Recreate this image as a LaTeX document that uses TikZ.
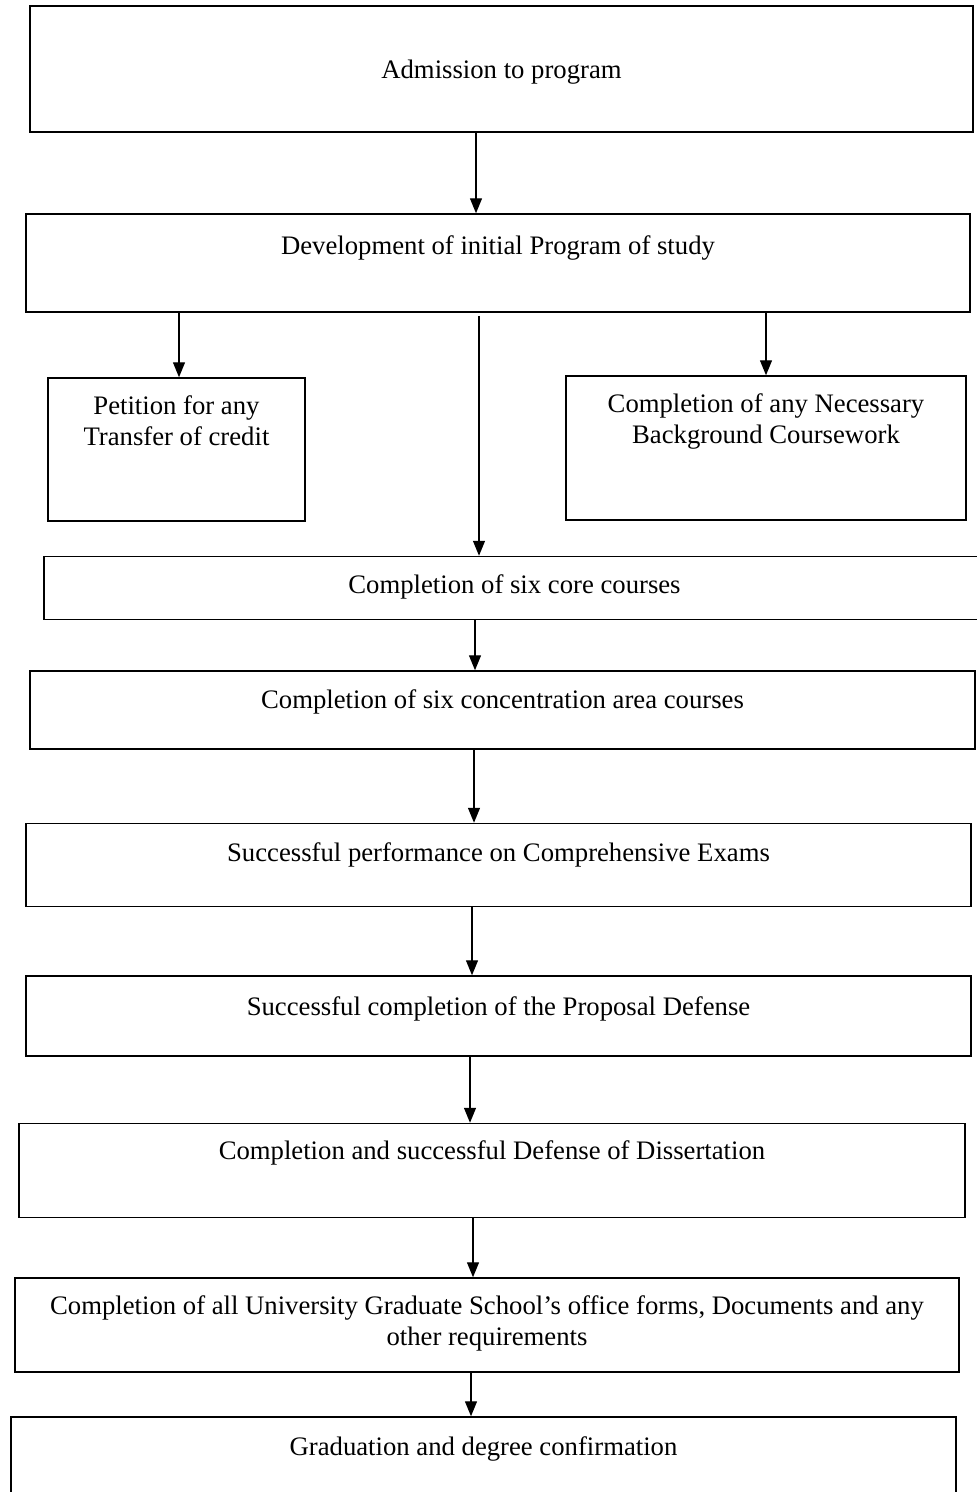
\documentclass[tikz,border=0pt]{standalone}
\usepackage{fontspec}
\setmainfont{Liberation Serif}
\usetikzlibrary{positioning,arrows.meta}

\begin{document}
\begin{tikzpicture}[x=1pt,y=-1pt,
  box/.style={draw, line width=1.5pt, inner sep=0pt},
  txt/.style={inner sep=0pt, align=center, font=\fontsize{26.7}{31}\selectfont},
  arr/.style={line width=1.3pt, -{Triangle[length=15pt,width=12pt]}}]

\useasboundingbox (0,0) rectangle (977,1492);

% boxes
\node[box, minimum width=943pt, minimum height=126pt] (adm) at (501.5,69) {};
\node[box, minimum width=944pt, minimum height=98pt] (dev) at (498,263) {};
\node[box, minimum width=257pt, minimum height=143pt] (pet) at (176.5,449.5) {};
\node[box, minimum width=400pt, minimum height=144pt] (nec) at (766,448) {};
\node[box, minimum width=941pt, minimum height=63pt] (core) at (514.5,588) {};
\node[box, minimum width=945pt, minimum height=78pt] (conc) at (502.5,710) {};
\node[box, minimum width=945pt, minimum height=83pt] (comp) at (498.5,865) {};
\node[box, minimum width=945pt, minimum height=80pt] (prop) at (498.5,1016) {};
\node[box, minimum width=946pt, minimum height=94pt] (diss) at (492,1170.5) {};
\node[box, minimum width=944pt, minimum height=94pt] (forms) at (487,1325) {};
\node[box, minimum width=945pt, minimum height=110pt] (grad) at (483.5,1472) {};

% texts
\node[txt, below=55pt of adm.north] (adm-t) {Admission to program};
\node[txt, below=22pt of dev.north] (dev-t) {Development of initial Program of study};
\node[txt, below=18.5pt of pet.north] (pet-t) {Petition for any\\Transfer of credit};
\node[txt, below=18.5pt of nec.north] (nec-t) {Completion of any Necessary\\Background Coursework};
\node[txt, below=19pt of core.north] (core-t) {Completion of six core courses};
\node[txt, below=19.5pt of conc.north] (conc-t) {Completion of six concentration area courses};
\node[txt, below=20pt of comp.north] (comp-t) {Successful performance on Comprehensive Exams};
\node[txt, below=21.5pt of prop.north] (prop-t) {Successful completion of the Proposal Defense};
\node[txt, below=17.5pt of diss.north] (diss-t) {Completion and successful Defense of Dissertation};
\node[txt, below=18pt of forms.north] (forms-t) {Completion of all University Graduate School’s office forms, Documents and any\\other requirements};
\node[txt, below=20.5pt of grad.north] (grad-t) {Graduation and degree confirmation};

% arrows
\foreach \a/\b/\x in {adm/dev/476, core/conc/475, conc/comp/474, comp/prop/472,
                      prop/diss/470, diss/forms/473, forms/grad/471}
  \draw[arr] (\a.south -| \x,0) -- (\b.north -| \x,0);

\draw[arr] (dev.south -| 179,0) -- (pet.north -| 179,0);
\draw[arr] ([yshift=-3pt]dev.south -| 479,0) -- (core.north -| 479,0);
\draw[arr] (dev.south -| 766,0) -- (nec.north -| 766,0);

\end{tikzpicture}
\end{document}
